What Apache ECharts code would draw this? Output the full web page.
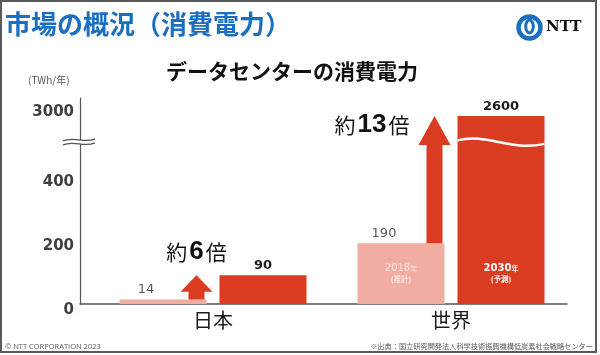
<!DOCTYPE html>
<html><head><meta charset="utf-8">
<script src="https://cdn.jsdelivr.net/npm/echarts@6/dist/echarts.min.js"></script>
<style>html,body{margin:0;padding:0;background:#fff}#c{width:600px;height:355px}</style>
</head><body><div id="c"></div>
<script>
// ---- data ----
const categories = ['日本', '世界'];
const yearLabels = ['2018年', '2030年'];
const noteLabels = ['(推計)', '(予測)'];
const values2018 = [14, 190];
const values2030 = [90, 2600];
const ratioLabels = ['6', '13'];
const yTickValues = [0, 200, 400, 3000];
const yUnit = '(TWh/年)';
const titleText = '市場の概況（消費電力）';
const chartTitle = 'データセンターの消費電力';
const copyright = '© NTT CORPORATION 2023';
const sourceText = '※出典：国立研究開発法人科学技術振興機構低炭素社会戦略センター';

// ---- broken axis scale ----
const LOW_END = 500;
const BREAK_AT = 510;
const UP_START = 1600, UP_END = 3000, UP_END_DISPLAY = 619;
function toDisplay(v) {
  if (v <= LOW_END) return v;
  return BREAK_AT + (v - UP_START) * (UP_END_DISPLAY - BREAK_AT) / (UP_END - UP_START);
}
function tickLabel(d) {
  for (const t of yTickValues) if (Math.abs(toDisplay(t) - d) < 0.5) return String(t);
  return '';
}

// ---- style ----
const PINK = '#F2ADA3', RED = '#DA3C22', BLUE = '#1A6FC1';
const BAR_W = 87, BAR_GAP = 13, ARROW_SHIFT = 33.5, Y_OFFSET = 14;
const JP = '"Noto Sans CJK JP", sans-serif';

function renderExtras(params, api) {
  const i = api.value(0);
  const base = api.coord([i, 0]);
  const cx = base[0], zeroY = base[1];
  const yLow = api.coord([i, api.value(1)])[1];
  const yHigh = api.coord([i, api.value(2)])[1];
  const half = (BAR_W + BAR_GAP) / 2;
  const x2018 = cx - half, x2030 = cx + half;
  const ax = x2018 + ARROW_SHIFT;
  const len = yLow - yHigh;
  const head = Math.min(29, len * 0.68);
  const ch = [];
  ch.push({type: 'polygon', shape: {points: [[ax, yHigh], [ax + 16, yHigh + head], [ax + 8, yHigh + head], [ax + 8, yLow], [ax - 8, yLow], [ax - 8, yHigh + head], [ax - 16, yHigh + head]]}, style: {fill: RED}});
  const tall = len > 60;
  ch.push({type: 'text', x: tall ? ax - 25 : ax, y: tall ? yHigh + 9 : yHigh - 10,
    style: {text: '{k|約}{n|' + ratioLabels[i] + '}{k|倍}', align: tall ? 'right' : 'center', verticalAlign: tall ? 'middle' : 'bottom',
      rich: {k: {fontSize: 21, fontFamily: JP, fill: '#111'},
             n: {fontSize: 26, fontWeight: 'bold', fontFamily: '"Liberation Sans", Arial', fill: '#111', padding: [0, 2, 0, 2]}}}});
  // inner labels
  const bars = [[x2018, yLow, '#FBE3DE', 'normal'], [x2030, yHigh, '#ffffff', 'bold']];
  bars.forEach((b, k) => {
    if (zeroY - b[1] > 50) {
      const yr = yearLabels[k];
      ch.push({type: 'text', x: b[0], y: zeroY - 36, style: {text: '{n|' + yr.slice(0, -1) + '}{k|' + yr.slice(-1) + '}', align: 'center', verticalAlign: 'middle',
        rich: {n: {fontSize: 10, fontWeight: b[3], fontFamily: 'DejaVu Sans', fill: b[2]}, k: {fontSize: 7, fontWeight: b[3], fontFamily: JP, fill: b[2]}}}});
      ch.push({type: 'text', x: b[0], y: zeroY - 25, style: {text: noteLabels[k], align: 'center', verticalAlign: 'middle', fontSize: 7.5, fontWeight: 'bold', fontFamily: JP, fill: b[2]}});
    }
  });
  const by = api.coord([i, BREAK_AT])[1];
  if (values2030[i] > LOW_END) {
    const x0 = x2030 - BAR_W / 2, w = BAR_W;
    ch.push({type: 'bezierCurve', shape: {x1: x0, y1: by - 0.5, cpx1: x0 + 0.35 * w, cpy1: by - 8, cpx2: x0 + 0.6 * w, cpy2: by + 11, x2: x0 + w, y2: by + 3},
      style: {stroke: '#fff', lineWidth: 2.5, fill: null}});
  }
  if (params.dataIndex === 0) {
    const bandW = api.size([1, 0])[0];
    const axX = cx - bandW / 2 - Y_OFFSET;
    const yb = by + 1;
    ch.push({type: 'rect', shape: {x: axX - 2, y: yb - 2, width: 4, height: 4}, style: {fill: '#fff'}});
    [-2, 2].forEach(d => {
      ch.push({type: 'bezierCurve', shape: {x1: axX - 17, y1: yb + d + 1, cpx1: axX - 6, cpy1: yb + d - 4, cpx2: axX + 4, cpy2: yb + d + 4, x2: axX + 15, y2: yb + d - 1},
        style: {stroke: '#555', lineWidth: 1.2, fill: null}});
    });
  }
  return {type: 'group', children: ch};
}

const chart = echarts.init(document.getElementById('c'), null, {renderer: 'canvas'});
chart.setOption({
  animation: false,
  backgroundColor: '#fff',
  title: [
    {text: titleText, left: 5, top: 11, padding: 0, textStyle: {fontSize: 26, fontWeight: 'bold', color: BLUE, fontFamily: JP}},
    {text: chartTitle, left: 166, top: 61, padding: 0, textStyle: {fontSize: 21, fontWeight: 'bold', color: '#111', fontFamily: JP}}
  ],
  grid: [
    {left: 94, right: 30, top: 98, bottom: 51},
    {left: 80, right: 33, top: 98, bottom: 51}
  ],
  xAxis: [
    {gridIndex: 0, type: 'category', data: categories, axisLine: {show: false}, axisTick: {show: false},
      axisLabel: {fontSize: 20, color: '#1a1a1a', margin: 6, fontFamily: JP}},
    {gridIndex: 1, type: 'value', min: 0, max: 1, axisLine: {show: true, lineStyle: {color: '#555', width: 1.5}},
      axisTick: {show: false}, axisLabel: {show: false}, splitLine: {show: false}}
  ],
  yAxis: [
    {gridIndex: 0, type: 'value', min: 0, max: 644, offset: Y_OFFSET,
      axisLine: {show: true, lineStyle: {color: '#555', width: 1.2}}, axisTick: {show: false}, splitLine: {show: false},
      axisLabel: {customValues: yTickValues.map(toDisplay), formatter: tickLabel, fontSize: 15, fontWeight: 'bold',
        color: '#404040', fontFamily: 'DejaVu Sans', margin: 6, verticalAlign: 'top', lineHeight: 12}},
    {gridIndex: 1, type: 'value', min: 0, max: 1, show: false}
  ],
  series: [
    {type: 'bar', xAxisIndex: 0, yAxisIndex: 0, barWidth: BAR_W, barGap: (BAR_GAP / BAR_W * 100) + '%',
      data: values2018.map(toDisplay), itemStyle: {color: PINK},
      label: {show: true, position: 'top', distance: 3, offset: [-17, 0], formatter: p => values2018[p.dataIndex],
        fontSize: 13, color: '#595959', fontFamily: 'DejaVu Sans'}},
    {type: 'bar', xAxisIndex: 0, yAxisIndex: 0, barWidth: BAR_W,
      data: values2030.map(toDisplay), itemStyle: {color: RED},
      label: {show: true, position: 'top', distance: 3, formatter: p => values2030[p.dataIndex],
        fontSize: 13, fontWeight: 'bold', color: '#1a1a1a', fontFamily: 'DejaVu Sans'}},
    {type: 'custom', xAxisIndex: 0, yAxisIndex: 0, z: 5, clip: false, renderItem: renderExtras,
      data: categories.map((c, i) => [i, toDisplay(values2018[i]), toDisplay(values2030[i])])}
  ],
  graphic: [
    {type: 'rect', shape: {x: 1, y: 1, width: 595, height: 351}, style: {fill: null, stroke: '#5a5a5a', lineWidth: 2}, silent: true},
    {type: 'text', left: 28, top: 75, style: {text: yUnit, fontSize: 10, fill: '#595959', fontFamily: JP}},
    {type: 'circle', shape: {cx: 529.5, cy: 27.5, r: 11}, style: {fill: null, stroke: BLUE, lineWidth: 4.5}},
    {type: 'ellipse', shape: {cx: 529.5, cy: 26.5, rx: 3.8, ry: 6.5}, style: {fill: null, stroke: BLUE, lineWidth: 3}},
    {type: 'text', left: 546, top: 20, style: {text: 'NTT', fontSize: 15, fontWeight: 'bold', fill: '#111', fontFamily: '"DejaVu Serif", serif'}},
    {type: 'text', left: 5, top: 343, style: {text: copyright, fontSize: 7.5, fill: '#595959', fontFamily: '"Open Sans", sans-serif'}},
    {type: 'text', right: 7, top: 343, style: {text: sourceText, fontSize: 7.2, fill: '#595959', fontFamily: JP}}
  ]
});
</script></body></html>
